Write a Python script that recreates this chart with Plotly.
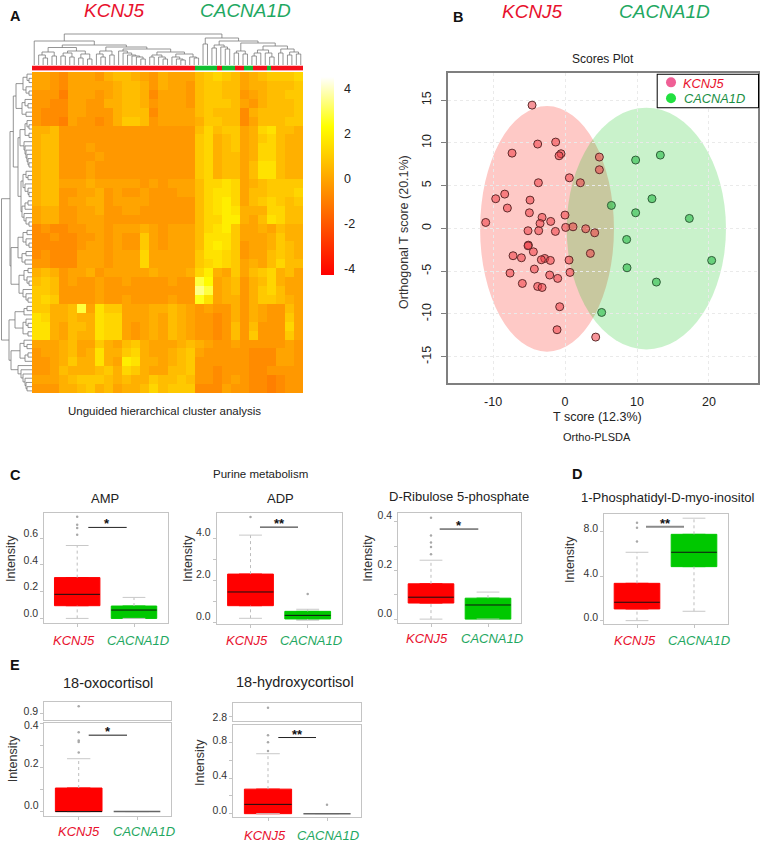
import plotly.graph_objects as go

W, H = 764, 853
FONT = "Liberation Sans"
RED_TXT = "#e8112d"
GRN_TXT = "#1fa862"
GENES = ["KCNJ5", "CACNA1D"]

# ---------- Panel A data ----------
heat_rows = [
    "33213 33245 54324 33356 76534 56667",
    "33213 33334 55424 33256 65534 45556",
    "22203 33234 55413 33256 65523 45566",
    "22113 32244 55423 33256 66532 45556",
    "21113 32224 55513 33356 55514 55556",
    "21103 22124 66523 33346 65513 55566",
    "44522 22222 22222 22257 56634 78554",
    "45522 22222 22222 22267 45634 67544",
    "45522 23222 22222 22267 45634 77544",
    "45522 22322 22222 22267 45534 77544",
    "45522 23222 22222 22267 45535 88544",
    "45522 23222 22222 22267 45535 88544",
    "45533 34333 33232 33357 78734 56666",
    "45522 33423 22322 23357 88735 56667",
    "45523 34423 33322 22257 89735 67656",
    "34422 33422 33222 22257 89844 47755",
    "34422 33322 22222 22257 79943 58755",
    "12112 23323 33432 33357 89633 43544",
    "11211 22323 22632 33358 88633 34644",
    "11111 23323 22632 33358 98623 34654",
    "12111 33323 33733 33368 87623 35654",
    "22111 33323 33733 33367 87634 35755",
    "45423 34233 33343 33479 43635 67453",
    "56523 22322 32222 322CA 34524 57433",
    "66522 22322 22222 222EC 34524 67533",
    "67622 22322 32222 322B8 34424 66543",
    "66445 C3866 33344 54323 22424 32253",
    "87445 44877 33343 54322 12424 32263",
    "88435 54877 32343 54322 12525 22273",
    "88435 44877 32343 54322 12526 22263",
    "33345 33643 56433 34543 22322 22232",
    "23345 34844 67433 45632 22221 11332",
    "22346 44843 98443 45622 22221 11332",
    "22354 44564 76433 55622 12221 12222",
    "33345 66654 54465 56522 12321 10122",
    "22244 56453 44575 66611 13221 10122",
]
sample_groups = ("KKKKKKKKKKKKKKKKKKKKKKKKKKKKKKKKKKKK" "CCCCC" "K" "CCC" "KK" "CC" "KKK" "C" "KKKKKKK")
colorbar_ticks = [-4, -2, 0, 2, 4]
colorbar_text = ["-4", "-2", "0", "2", "4"]

col_tree = (31,
    (24, 0,
        (20,
            (17.5,
                (13, (10, 0, (7, 0, 0)), (9, 0, 0)),
                (14, (12, (9, 0, 0), (8, 0, 0)), (11, (7, 0, 0), (6, 0, 0)))),
            (18,
                (14, (11, 0, (8, 0, 0)), (10, 0, 0)),
                (16,
                    (14, 0, (12, 0, (10, 0, (9, 0, (8, 0, (6, 0, 0)))))),
                    (13, (10, (8, 0, 0), (8, 0, (6, 0, 0))), (11, (8, 0, (6, 0, (5, 0, 0))), (8, 0, (7, 0, 0)))))))),
    (27,
        (21, 0, 0),
        (24,
            (20, (17, 0, 0), (18, 0, (16, 0, 0))),
            (22,
                (14, (12, 0, 0), (11, 0, 0)),
                (19,
                    (15, (12, (9, 0, 0), 0), (12, 0, (8, 0, 0))),
                    (16, (12, 0, 0), (13, (10, 0, 0), (11, 0, 0))))))))

row_tree = (30.5,
    (22,
        (18.7,
            (16, (9, (5, 0, (3, 0, 0)), (6, 0, (3, 0, 0))), (10, (7, 0, (4, 0, 0)), (6, 0, 0))),
            (14,
                (12, (7, (5, 0, (3, 0, 0)), (3, 0, 0)), (8, 0, (7, 0, (6, 0, (5, 0, (4, 0, (3, 0, 0))))))),
                (11, (9, (6, 0, (4, 0, 0)), (7, 0, (4, 0, (3, 0, 0)))), (10, (7, (4, 0, 0), 0), (8, 0, (6, 0, (3, 0, 0))))))),
        (21,
            (14, (9, (5, 0, 0), (6, 0, (3, 0, 0))), (10, (6, 0, 0), (7, 0, 0))),
            (13, (8, (4, 0, 0), (5, 0, (3, 0, 0))), (9, 0, (6, 0, (4, 0, 0)))))),
    (23,
        (17, (8, (5, 0, 0), 0), (9, (6, 0, (4, 0, 0)), (4, 0, 0))),
        (21, (12, (8, 0, (5, 0, 0)), (7, (4, 0, 0), 0)), (14, 0, (11, 0, (9, 0, (7, 0, (6, 0, (5, 0, 0)))))))))

# ---------- Panel B data ----------
kcnj5_t = [-4.58, -1.30, -3.80, -7.36, -0.56, -0.83, 4.77, 4.77, 0.60, 2.13, -3.70, -8.38, -9.63, -4.86, -8.01, -4.95,
           0.00, -3.19, -1.99, -3.47, -11.02, 0.09, 1.11, 2.87, -5.14, -3.66, -1.34, 4.12, -5.09, -5.14, -4.40, 3.52,
           -7.22, -6.06, -2.82, -3.29, -2.04, 0.56, -4.26, 0.69, -7.64, -2.13, -1.02, -5.93, -3.80, -3.19, -0.74, -1.11, 4.26]
kcnj5_o = [14.41, 10.09, 9.86, 8.80, 8.73, 8.49, 8.34, 6.86, 5.92, 5.34, 5.34, 4.01, 3.47, 3.31, 2.38, 1.83,
           1.56, 1.29, 0.82, 0.58, 0.70, 0.12, 0.19, -0.04, -0.27, -0.27, -0.35, -0.51, -1.95, -2.03, -2.73, -2.92,
           -3.19, -3.43, -3.51, -3.66, -3.74, -3.70, -4.75, -5.14, -5.22, -5.45, -5.84, -6.43, -6.78, -6.90, -9.15, -11.84, -12.70]
cacna1d_t = [9.81, 13.24, 6.44, 12.08, 9.81, 17.27, 8.56, 20.37, 8.61, 12.69, 5.09]
cacna1d_o = [7.99, 8.57, 2.69, 3.47, 1.83, 1.17, -1.29, -3.74, -4.60, -6.27, -9.82]
kcnj5_ellipse = [-11.8, 6.8, -14.4, 14.3]
cacna1d_ellipse = [0.23, 22.36, -14.14, 14.1]
score_xticks = [-10, 0, 10, 20]
score_xtext = ["-10", "0", "10", "20"]
score_yticks = [-15, -10, -5, 0, 5, 10, 15]
score_ytext = ["-15", "-10", "-5", "0", "5", "10", "15"]

# ---------- Box panels: [lower whisker, q1, median, q3, upper whisker] ----------
amp_k = [0.0, 0.095, 0.18, 0.305, 0.545]
amp_c = [0.0, 0.0, 0.0625, 0.0925, 0.157]
amp_k_out = [0.625, 0.675, 0.70, 0.76]
amp_c_out = []
adp_k = [0.19, 0.79, 1.44, 2.29, 4.14]
adp_c = [0.10, 0.16, 0.33, 0.52, 0.62]
adp_k_out = [5.0]
adp_c_out = [1.35]
rib_k = [0.0, 0.066, 0.09, 0.145, 0.242]
rib_c = [0.0, 0.0, 0.058, 0.086, 0.111]
rib_k_out = [0.267, 0.296, 0.315, 0.344, 0.416]
rib_c_out = []
ptd_k = [0.0, 1.05, 1.65, 3.35, 6.14]
ptd_c = [0.84, 4.85, 6.14, 7.75, 9.2]
ptd_k_out = [7.1, 8.35, 8.8]
ptd_c_out = []
oxo_k = [0.0, 0.0, 0.0, 0.107, 0.24]
oxo_c = [0.0, 0.0, 0.0, 0.0, 0.0]
oxo_k_out = [0.268, 0.316, 0.323, 0.36]
oxo_k_out_high = [0.976]
oxo_c_out = []
hyd_k = [0.0, 0.0, 0.105, 0.277, 0.677]
hyd_c = [0.0, 0.0, 0.0, 0.0, 0.0]
hyd_k_out = [0.707, 0.807, 0.886]
hyd_k_out_high = [3.21]
hyd_c_out = [0.1]
oxo_tick_labels = [("0.0", 805), ("0.2", 763.3), ("0.4", 724.5)]

panels = [
    dict(title="AMP", tx=105, ty=498, k=amp_k, c=amp_c, ko=amp_k_out, co=amp_c_out, rect=(44.3, 512.7, 167.7, 622.7),
         cen=(77.2, 134), yr=(-0.032, 0.79), tv=[0, 0.2, 0.4, 0.6], tt=["0.0", "0.2", "0.4", "0.6"], sig=(0.68, 88.3, 126.7, "*"),
         ylab=(11, 559), lab=(73.7, 138), laby=640, shift=-5),
    dict(title="ADP", tx=280.7, ty=498, k=adp_k, c=adp_c, ko=adp_k_out, co=adp_c_out, rect=(216.7, 513, 341.7, 624),
         cen=(250.5, 307.7), yr=(-0.08, 5.19), tv=[0, 1, 2, 3, 4], tt=["0.0", "", "2.0", "", "4.0"], sig=(4.52, 260, 298, "**"),
         ylab=(188, 559), lab=(246.5, 311), laby=640, shift=-6),
    dict(title="D-Ribulose 5-phosphate", tx=459.3, ty=496.7, k=rib_k, c=rib_c, ko=rib_k_out, co=rib_c_out, rect=(398.3, 513, 520.7, 623),
         cen=(431, 488), yr=(-0.016, 0.436), tv=[0, 0.1, 0.2, 0.3, 0.4], tt=["0.0", "", "0.2", "", "0.4"], sig=(0.37, 439.7, 478.3, "*"),
         ylab=(367.7, 558), lab=(427.5, 492), laby=638, shift=-6),
    dict(title="1-Phosphatidyl-D-myo-inositol", tx=667.7, ty=497.3, k=ptd_k, c=ptd_c, ko=ptd_k_out, co=ptd_c_out, rect=(604.3, 514.3, 727.7, 624.3),
         cen=(637, 694), yr=(-0.33, 9.55), tv=[0, 4, 8], tt=["0.0", "4.0", "8.0"], sig=(8.44, 646, 684, "**"),
         ylab=(570, 560), lab=(634.5, 699), laby=640, shift=-3, sigcol="#8a8a8a", sigw=2),
    dict(title="18-oxocortisol", tx=107.7, ty=682.7, tsize=14.5, k=oxo_k, c=oxo_c, ko=oxo_k_out, co=oxo_c_out, rect=(44.3, 722.8, 171.3, 816),
         cen=(78.7, 137), yr=(-0.02, 0.403), tv=[0, 0.1, 0.2, 0.3, 0.4], tt=["", "", "", "", ""], sig=(0.346, 88.7, 127, "*"),
         ylab=(13.3, 759), lab=(79.3, 144), laby=831.7, shift=0, sigcol="#666666", sigw=1.5, ccol="#666666",
         upper=dict(rect=(44.3, 702.3, 171.3, 720.2), yr=(0.82, 1.02), pts=oxo_k_out_high, tv=[0.9], tt=["0.9"], shift=-2)),
    dict(title="18-hydroxycortisol", tx=295, ty=681.7, tsize=14.5, k=hyd_k, c=hyd_c, ko=hyd_k_out, co=hyd_c_out, rect=(233.3, 724.6, 361, 817.3),
         cen=(268, 327), yr=(-0.041, 1.006), tv=[0, 0.2, 0.4, 0.6, 0.8], tt=["0.0", "", "0.4", "", "0.8"], sig=(0.86, 278.3, 316, "**"),
         ylab=(200, 763), lab=(265, 328), laby=835, shift=-3, ccol="#666666", sigw=1,
         upper=dict(rect=(233.3, 703.3, 361, 721.2), yr=(2.61, 3.41), pts=hyd_k_out_high, tv=[2.8], tt=["2.8"], shift=0)),
]

# ---------- Free text ----------
panel_letters = [("A", 15, 16), ("B", 458, 17), ("C", 15, 475), ("D", 577, 474), ("E", 15, 665)]
top_gene_labels = [(114, 10.8), (246, 10.8), (532.3, 11), (664, 11)]
captions = [("Unguided hierarchical cluster analysis", 164, 410.7, 11.5),
            ("Scores Plot", 603.3, 59.3, 12),
            ("T score (12.3%)", 597, 417, 12.5),
            ("Ortho-PLSDA", 597, 437, 11),
            ("Purine metabolism", 260.3, 474.3, 11.5)]

# ---------- Helpers ----------
fig = go.Figure()
layout_axes = {}
annots = []
shapes = []
axis_n = [0]


def new_axes(l, t, r, b, xa=None, ya=None):
    axis_n[0] += 1
    n = axis_n[0]
    sfx = "" if n == 1 else str(n)
    xd = dict(domain=[l / W, r / W], anchor="y" + sfx, showgrid=False, zeroline=False)
    yd = dict(domain=[1 - b / H, 1 - t / H], anchor="x" + sfx, showgrid=False, zeroline=False)
    xd.update(xa or {})
    yd.update(ya or {})
    layout_axes["xaxis" + sfx] = xd
    layout_axes["yaxis" + sfx] = yd
    return "x" + sfx, "y" + sfx


def text(t, x, y, size=12, color="#222", angle=0, bold=False, italic=False):
    s = t
    if italic:
        s = "<i>" + s + "</i>"
    if bold:
        s = "<b>" + s + "</b>"
    annots.append(dict(text=s, x=x / W, y=1 - y / H, xref="paper", yref="paper", showarrow=False,
                       xanchor="center", yanchor="middle", textangle=angle,
                       font=dict(family=FONT, size=size, color=color)))


def tree_segments(node):
    seg_pos, seg_h = [], []
    counter = [0]

    def walk(nd):
        if nd == 0:
            counter[0] += 1
            return counter[0] - 0.5, 0
        h, a, b = nd
        pa, ha = walk(a)
        pb, hb = walk(b)
        seg_pos.extend([pa, pa, pb, pb, None])
        seg_h.extend([ha, h, h, hb, None])
        return (pa + pb) / 2, h

    walk(node)
    return seg_pos, seg_h, counter[0]


# ---------- Panel A ----------
HX0, HX1, HY0, HY1 = 32, 303, 72, 393
matrix = [[-1 + 0.32 * int(c, 16) for c in r.replace(" ", "")] for r in heat_rows]
zmin, zmax = -4.27, 4.5
ax, ay = new_axes(HX0, HY0, HX1, HY1,
                  dict(range=[0, 30], visible=False), dict(range=[36, 0], visible=False))
fig.add_trace(go.Heatmap(z=matrix, x0=0.5, dx=1, y0=0.5, dy=1, xaxis=ax, yaxis=ay, zmin=zmin, zmax=zmax,
                         colorscale=[[0, "#ff0000"], [0.75, "#ffff00"], [1, "#ffffff"]],
                         colorbar=dict(x=321 / W, xanchor="left", y=1 - 275 / H, yanchor="bottom", len=198.3 / H,
                                       thickness=13, xpad=0, ypad=0, outlinewidth=0,
                                       tickvals=colorbar_ticks, ticktext=colorbar_text,
                                       ticks="outside", ticklen=8, tickcolor="rgba(0,0,0,0)",
                                       tickfont=dict(family=FONT, size=12.5, color="#222"))))
sx, sy = new_axes(HX0, 65.5, HX1, 70.7, dict(range=[0, 60], visible=False), dict(range=[0, 1], visible=False))
fig.add_trace(go.Heatmap(z=[[0 if g == "K" else 1 for g in sample_groups]], x0=0.5, dx=1, y0=0.5, dy=1, xaxis=sx, yaxis=sy,
                         zmin=0, zmax=1, showscale=False,
                         colorscale=[[0, "#f5101a"], [0.5, "#f5101a"], [0.5, "#10c030"], [1, "#10c030"]]))
pos, hts, n_leaf = tree_segments(col_tree)
dx_, dy_ = new_axes(HX0, 30, HX1, 65, dict(range=[0, n_leaf], visible=False), dict(range=[0, 35], visible=False))
fig.add_trace(go.Scatter(x=pos, y=hts, mode="lines", xaxis=dx_, yaxis=dy_, line=dict(color="#7a7a7a", width=0.8),
                         hoverinfo="skip", showlegend=False))
pos, hts, n_leaf = tree_segments(row_tree)
dx_, dy_ = new_axes(1, HY0, 32, HY1, dict(range=[31, 0], visible=False), dict(range=[n_leaf, 0], visible=False))
fig.add_trace(go.Scatter(x=hts, y=pos, mode="lines", xaxis=dx_, yaxis=dy_, line=dict(color="#7a7a7a", width=0.8),
                         hoverinfo="skip", showlegend=False))

# ---------- Panel B ----------
grid = dict(showgrid=True, gridcolor="#eaeaea", griddash="dot", gridwidth=1)
bx, by = new_axes(447.7, 72.7, 758.3, 383.3,
                  dict(range=[-16.3, 26.85], tickvals=score_xticks, ticktext=score_xtext, ticks="", showline=True, mirror=True,
                       linecolor="#7f7f7f", linewidth=1.5, tickfont=dict(family=FONT, size=12.5, color="#222"),
                       ticklabelstandoff=6, **grid),
                  dict(range=[-18.1, 18.2], tickvals=score_yticks, ticktext=score_ytext, ticks="outside", ticklen=5,
                       tickcolor="#7f7f7f", showline=True, mirror=True, linecolor="#7f7f7f", linewidth=1.5, tickangle=-90,
                       tickfont=dict(family=FONT, size=12.5, color="#222"), ticklabelstandoff=5, **grid))
for ell, col in ((kcnj5_ellipse, "rgba(250,20,10,0.23)"), (cacna1d_ellipse, "rgba(20,200,30,0.23)")):
    shapes.append(dict(type="circle", xref=bx, yref=by, x0=ell[0], x1=ell[1], y0=ell[2], y1=ell[3],
                       fillcolor=col, line=dict(width=0), layer="below"))
fig.add_trace(go.Scatter(x=kcnj5_t, y=kcnj5_o, mode="markers", xaxis=bx, yaxis=by, showlegend=False, name=GENES[0],
                         marker=dict(size=8, color="rgba(240,60,70,0.55)", line=dict(color="#5e2a2a", width=1))))
fig.add_trace(go.Scatter(x=cacna1d_t, y=cacna1d_o, mode="markers", xaxis=bx, yaxis=by, showlegend=False, name=GENES[1],
                         marker=dict(size=8, color="rgba(50,190,80,0.65)", line=dict(color="#2f5e38", width=1))))

# legend key, drawn in its own small pair of axes on top of the scores plot
lx, ly = new_axes(656.7, 73.7, 759, 108.3, dict(range=[0, 1], visible=False), dict(range=[0, 1], visible=False))
fig.add_trace(go.Scatter(x=[0, 1, 1, 0, 0], y=[0, 0, 1, 1, 0], mode="lines", fill="toself", fillcolor="white", xaxis=lx, yaxis=ly,
                         line=dict(color="#000000", width=2), hoverinfo="skip", showlegend=False))
legend_key_y = [0.75, 0.29]
legend_key_col = ["#ef5f95", "#22e040"]
fig.add_trace(go.Scatter(x=[0.14, 0.14], y=legend_key_y, mode="markers", xaxis=lx, yaxis=ly, hoverinfo="skip", showlegend=False,
                         marker=dict(size=10, color=legend_key_col)))
text(GENES[0], 703, 83, size=12.8, color="#e8112d", italic=True)
text(GENES[1], 714.3, 98.5, size=12.8, color="#1b8f45", italic=True)


# ---------- Box panels ----------
def box_axes(p, rect, yr, tv, tt, shift, xticks=True):
    c0, c1 = p["cen"]
    unit = c1 - c0
    xr = [(rect[0] - c0) / unit, (rect[2] - c0) / unit]
    frame = dict(showline=True, mirror=True, linecolor="#c4c4c4", linewidth=1)
    return new_axes(*rect,
                    dict(range=xr, tickvals=[0, 1] if xticks else [], ticktext=["", ""] if xticks else [],
                         ticks="outside" if xticks else "", ticklen=3, tickcolor="#c4c4c4", **frame),
                    dict(range=list(yr), tickvals=tv, ticktext=tt, ticks="outside", ticklen=3, tickcolor="#c4c4c4",
                         ticklabelshift=shift, tickfont=dict(family=FONT, size=10.5, color="#333"), **frame))


for p in panels:
    xa, ya = box_axes(p, p["rect"], p["yr"], p["tv"], p["tt"], p["shift"])
    series = [(0, p["k"], p["ko"], "#ff0000", "#111111"), (1, p["c"], p["co"], "#00c800", p.get("ccol", "#111111"))]
    for xc, (lo, q1, med, q3, up), outs, col, medcol in series:
        fig.add_trace(go.Scatter(x=[xc, xc, None, xc, xc], y=[lo, q1, None, q3, up], mode="lines", xaxis=xa, yaxis=ya,
                                 line=dict(color="#bdbdbd", width=1, dash="dot"), hoverinfo="skip", showlegend=False))
        fig.add_trace(go.Scatter(x=[xc - 0.2, xc + 0.2, None, xc - 0.2, xc + 0.2], y=[lo, lo, None, up, up], mode="lines",
                                 xaxis=xa, yaxis=ya, line=dict(color="#c8c8c8", width=1), hoverinfo="skip", showlegend=False))
        if q3 > q1:
            fig.add_trace(go.Box(x=[xc], q1=[q1], median=[med], q3=[q3], lowerfence=[q1], upperfence=[q3], width=0.8,
                                 xaxis=xa, yaxis=ya, fillcolor=col, line=dict(color=col, width=1), showlegend=False,
                                 name=GENES[xc], boxpoints=False))
        fig.add_trace(go.Scatter(x=[xc - 0.4, xc + 0.4], y=[med, med], mode="lines", xaxis=xa, yaxis=ya,
                                 line=dict(color=medcol, width=1 if medcol == "#111111" else 1.5),
                                 hoverinfo="skip", showlegend=False))
        if outs:
            fig.add_trace(go.Scatter(x=[xc] * len(outs), y=outs, mode="markers", xaxis=xa, yaxis=ya,
                                     marker=dict(size=2.5, color="#a8a8a8"), hoverinfo="skip", showlegend=False))
    sy_, s0, s1, stars = p["sig"]
    c0, c1 = p["cen"]
    fig.add_trace(go.Scatter(x=[(s0 - c0) / (c1 - c0), (s1 - c0) / (c1 - c0)], y=[sy_, sy_], mode="lines", xaxis=xa, yaxis=ya,
                             line=dict(color=p.get("sigcol", "#222222"), width=p.get("sigw", 1)), hoverinfo="skip", showlegend=False))
    rect = p["rect"]
    sig_py = rect[3] - (sy_ - p["yr"][0]) / (p["yr"][1] - p["yr"][0]) * (rect[3] - rect[1])
    text(stars, (s0 + s1) / 2, sig_py - 3.5, size=13, color="#111", bold=True)
    text(p["title"], p["tx"], p["ty"], size=p.get("tsize", 13), color="#222")
    text("Intensity", p["ylab"][0], p["ylab"][1], size=12.5, color="#333", angle=-90)
    text(GENES[0], p["lab"][0], p["laby"], size=13, color=RED_TXT, italic=True)
    text(GENES[1], p["lab"][1], p["laby"], size=13, color=GRN_TXT, italic=True)
    if "upper" in p:
        u = p["upper"]
        uxa, uya = box_axes(p, u["rect"], u["yr"], u["tv"], u["tt"], u["shift"], xticks=False)
        fig.add_trace(go.Scatter(x=[0] * len(u["pts"]), y=u["pts"], mode="markers", xaxis=uxa, yaxis=uya,
                                 marker=dict(size=2.5, color="#a8a8a8"), hoverinfo="skip", showlegend=False))

# labels of the oxocortisol lower axis sit away from their ticks in the figure
for lbl, py in oxo_tick_labels:
    text(lbl, 31, py, size=10.5, color="#333")

# ---------- Text ----------
for t, x, y in panel_letters:
    text(t, x, y, size=14.5, color="#111", bold=True)
for i, (x, y) in enumerate(top_gene_labels):
    text(GENES[i % 2], x, y, size=19, color=RED_TXT if i % 2 == 0 else GRN_TXT, italic=True)
for t, x, y, s in captions:
    text(t, x, y, size=s, color="#222")
text("Orthogonal T score (20.1%)", 404, 232, size=12.5, color="#333", angle=-90)

fig.update_layout(
    width=W, height=H, margin=dict(l=0, r=0, t=0, b=0, pad=0, autoexpand=False), paper_bgcolor="white", plot_bgcolor="white",
    font=dict(family=FONT), annotations=annots, shapes=shapes, showlegend=False, hovermode=False,
    **layout_axes,
)
fig.write_html("out.html", config=dict(displayModeBar=False),
               post_script="document.body.style.margin='0';document.body.style.overflow='hidden';")
